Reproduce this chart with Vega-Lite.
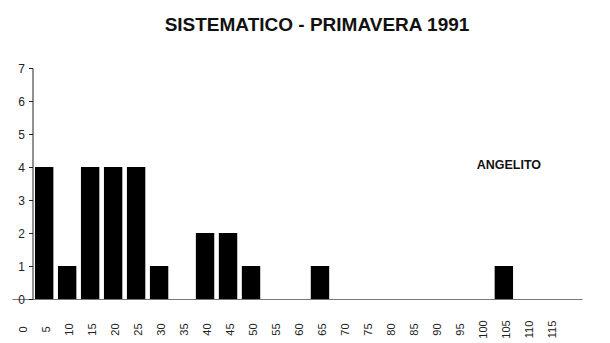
{
  "$schema": "https://vega.github.io/schema/vega-lite/v6.json",
  "width": 570,
  "height": 231,
  "padding": {"left": 12, "top": 16, "right": 5, "bottom": 5},
  "background": "white",
  "title": {"text": "SISTEMATICO - PRIMAVERA 1991", "font": "Liberation Sans", "fontSize": 19, "fontWeight": "bold", "color": "#111", "offset": 27, "anchor": "middle", "dx": 20},
  "config": {
    "view": {"stroke": null},
    "axis": {"grid": false, "labelFont": "Liberation Sans", "domainColor": "#222", "tickColor": "#222", "labelColor": "#222", "title": null},
    "axisX": {"labelAngle": -90, "labelAlign": "center", "labelBaseline": "middle", "labelFontSize": 11, "ticks": false, "labelPadding": 30, "labelOffset": 3, "domainColor": "#777", "labelExpr": "datum.value == 120 ? '' : datum.label"},
    "axisY": {"values": [0,1,2,3,4,5,6,7], "offset": -20.5, "tickSize": 4, "labelPadding": 4, "labelFontSize": 12}
  },
  "layer": [
    {
      "data": {"values": [
        {"clase": 0, "n": 0}, {"clase": 5, "n": 4}, {"clase": 10, "n": 1}, {"clase": 15, "n": 4},
        {"clase": 20, "n": 4}, {"clase": 25, "n": 4}, {"clase": 30, "n": 1}, {"clase": 35, "n": 0},
        {"clase": 40, "n": 2}, {"clase": 45, "n": 2}, {"clase": 50, "n": 1}, {"clase": 55, "n": 0},
        {"clase": 60, "n": 0}, {"clase": 65, "n": 1}, {"clase": 70, "n": 0}, {"clase": 75, "n": 0},
        {"clase": 80, "n": 0}, {"clase": 85, "n": 0}, {"clase": 90, "n": 0}, {"clase": 95, "n": 0},
        {"clase": 100, "n": 0}, {"clase": 105, "n": 1}, {"clase": 110, "n": 0}, {"clase": 115, "n": 0}
      ]},
      "mark": {"type": "bar", "color": "black"},
      "encoding": {
        "x": {
          "field": "clase", "type": "ordinal",
          "scale": {"domain": [0,5,10,15,20,25,30,35,40,45,50,55,60,65,70,75,80,85,90,95,100,105,110,115,120], "paddingInner": 0.2, "paddingOuter": 0}
        },
        "y": {
          "field": "n", "type": "quantitative",
          "scale": {"domain": [0, 7]}
        }
      }
    },
    {
      "data": {"values": [{"etiqueta": "ANGELITO", "clase": 105, "n": 4.05}]},
      "mark": {"type": "text", "font": "Liberation Sans", "fontWeight": "bold", "fontSize": 12.5, "color": "#111", "dx": 5},
      "encoding": {
        "x": {"field": "clase", "type": "ordinal"},
        "y": {"field": "n", "type": "quantitative"},
        "text": {"field": "etiqueta"}
      }
    }
  ]
}
